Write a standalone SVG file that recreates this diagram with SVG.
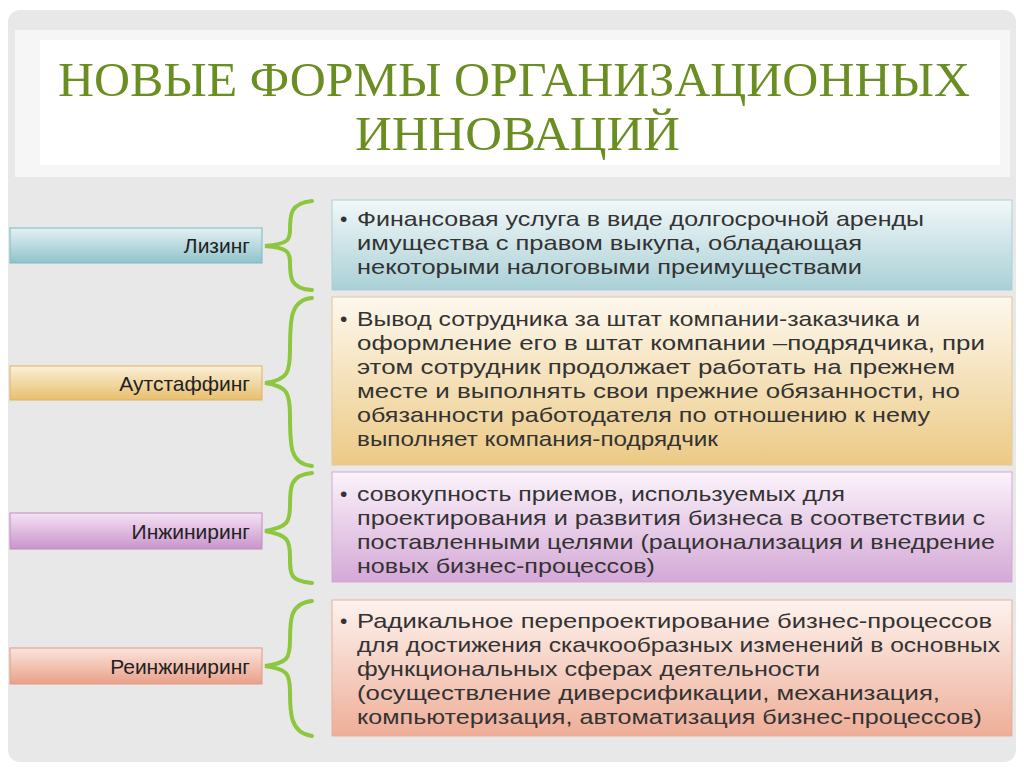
<svg xmlns="http://www.w3.org/2000/svg" width="1024" height="767" viewBox="0 0 1024 767">
<defs>
<linearGradient id="gb" x1="0" y1="0" x2="0" y2="1"><stop offset="0" stop-color="#e3f1f3"/><stop offset="1" stop-color="#8fc3cb"/></linearGradient>
<linearGradient id="go" x1="0" y1="0" x2="0" y2="1"><stop offset="0" stop-color="#fbf0d8"/><stop offset="1" stop-color="#e7bf6e"/></linearGradient>
<linearGradient id="gp" x1="0" y1="0" x2="0" y2="1"><stop offset="0" stop-color="#f4e3f4"/><stop offset="1" stop-color="#c994cb"/></linearGradient>
<linearGradient id="gr" x1="0" y1="0" x2="0" y2="1"><stop offset="0" stop-color="#fbe5dd"/><stop offset="1" stop-color="#e9a089"/></linearGradient>
<linearGradient id="bb" x1="0" y1="0" x2="0" y2="1"><stop offset="0" stop-color="#f2f8f9"/><stop offset="1" stop-color="#a9d0d6"/></linearGradient>
<linearGradient id="bo" x1="0" y1="0" x2="0" y2="1"><stop offset="0" stop-color="#fdf8ee"/><stop offset="1" stop-color="#ecca85"/></linearGradient>
<linearGradient id="bp" x1="0" y1="0" x2="0" y2="1"><stop offset="0" stop-color="#fbf3fb"/><stop offset="1" stop-color="#d4a8d6"/></linearGradient>
<linearGradient id="br" x1="0" y1="0" x2="0" y2="1"><stop offset="0" stop-color="#fdf3ef"/><stop offset="1" stop-color="#eeae98"/></linearGradient>
</defs>
<style>
.lbl{font-family:"Liberation Sans",Arial,sans-serif;font-size:21px;fill:#222;text-anchor:end}
.txt{font-family:"Liberation Sans",Arial,sans-serif;font-size:21px;fill:#333}
.br{fill:none;stroke:#8dc63f;stroke-width:4;stroke-linecap:round}
.ttl{font-family:"Liberation Serif","Times New Roman",serif;font-size:48px;fill:#6b8e23}
</style>
<rect width="1024" height="767" fill="#fff"/>
<rect x="8" y="10" width="1008" height="752" rx="12" fill="#e8e8e8"/>
<rect x="15" y="30" width="995" height="147" fill="#f6f6f6"/>
<rect x="40" y="40" width="960" height="125" fill="#fff"/>
<g id="title">
<text class="ttl" x="58" y="96" textLength="912" lengthAdjust="spacingAndGlyphs">НОВЫЕ ФОРМЫ ОРГАНИЗАЦИОННЫХ</text>
<text class="ttl" x="355" y="150" textLength="325" lengthAdjust="spacingAndGlyphs">ИННОВАЦИЙ</text>
</g>
<g id="connectors">
<path class="br" d="M312,201 C290,203 290,215 290,230 C290,240 288,244 265,246 C288,248 290,252 290,262 C290,277 290,289 312,290"/>
<path class="br" d="M312,298 C290,300 290,320 290,350 C290,372 288,380 265,383 C288,386 290,394 290,416 C290,446 290,464 312,466"/>
<path class="br" d="M312,473 C290,475 290,487 290,505 C290,522 288,527 265,531 C288,535 290,540 290,557 C290,575 290,581 312,583"/>
<path class="br" d="M312,601 C290,603 290,620 290,640 C290,658 288,663 265,666 C288,669 290,674 290,692 C290,712 290,733 312,736"/>
</g>
<g id="lizing">
<rect x="10" y="228" width="252" height="35" fill="url(#gb)" stroke="#7fb7bf"/>
<text class="lbl" x="250" y="253">Лизинг</text>
<rect x="332" y="200" width="680" height="90" fill="url(#bb)" stroke="#a9cfd4"/>
<text class="txt" x="340" y="226">•</text>
<text class="txt" x="357" y="226" textLength="567" lengthAdjust="spacingAndGlyphs">Финансовая услуга в виде долгосрочной аренды</text>
<text class="txt" x="357" y="250" textLength="505" lengthAdjust="spacingAndGlyphs">имущества с правом выкупа, обладающая</text>
<text class="txt" x="357" y="274" textLength="505" lengthAdjust="spacingAndGlyphs">некоторыми налоговыми преимуществами</text>
</g>
<g id="outstaffing">
<rect x="10" y="366" width="252" height="34" fill="url(#go)" stroke="#dcb35c"/>
<text class="lbl" x="250" y="391">Аутстаффинг</text>
<rect x="332" y="297" width="680" height="168" fill="url(#bo)" stroke="#e3c88f"/>
<text class="txt" x="340" y="326">•</text>
<text class="txt" x="357" y="326" textLength="563" lengthAdjust="spacingAndGlyphs">Вывод сотрудника за штат компании-заказчика и</text>
<text class="txt" x="357" y="350" textLength="628" lengthAdjust="spacingAndGlyphs">оформление его в штат компании –подрядчика, при</text>
<text class="txt" x="357" y="374" textLength="598" lengthAdjust="spacingAndGlyphs">этом сотрудник продолжает работать на прежнем</text>
<text class="txt" x="357" y="398" textLength="603" lengthAdjust="spacingAndGlyphs">месте и выполнять свои прежние обязанности, но</text>
<text class="txt" x="357" y="422" textLength="573" lengthAdjust="spacingAndGlyphs">обязанности работодателя по отношению к нему</text>
<text class="txt" x="357" y="446" textLength="361" lengthAdjust="spacingAndGlyphs">выполняет компания-подрядчик</text>
</g>
<g id="engineering">
<rect x="10" y="513" width="252" height="36" fill="url(#gp)" stroke="#bf8ac1"/>
<text class="lbl" x="250" y="539">Инжиниринг</text>
<rect x="332" y="472" width="680" height="110" fill="url(#bp)" stroke="#d0a9d2"/>
<text class="txt" x="340" y="501">•</text>
<text class="txt" x="357" y="501" textLength="488" lengthAdjust="spacingAndGlyphs">совокупность приемов, используемых для</text>
<text class="txt" x="357" y="525" textLength="628" lengthAdjust="spacingAndGlyphs">проектирования и развития бизнеса в соответствии с</text>
<text class="txt" x="357" y="549" textLength="638" lengthAdjust="spacingAndGlyphs">поставленными целями (рационализация и внедрение</text>
<text class="txt" x="357" y="573" textLength="298" lengthAdjust="spacingAndGlyphs">новых бизнес-процессов)</text>
</g>
<g id="reengineering">
<rect x="10" y="648" width="252" height="36" fill="url(#gr)" stroke="#e29a82"/>
<text class="lbl" x="250" y="674">Реинжиниринг</text>
<rect x="332" y="600" width="680" height="136" fill="url(#br)" stroke="#e8ad99"/>
<text class="txt" x="340" y="628">•</text>
<text class="txt" x="357" y="628" textLength="635" lengthAdjust="spacingAndGlyphs">Радикальное перепроектирование бизнес-процессов</text>
<text class="txt" x="357" y="652" textLength="643" lengthAdjust="spacingAndGlyphs">для достижения скачкообразных изменений в основных</text>
<text class="txt" x="357" y="676" textLength="463" lengthAdjust="spacingAndGlyphs">функциональных сферах деятельности</text>
<text class="txt" x="357" y="700" textLength="583" lengthAdjust="spacingAndGlyphs">(осуществление диверсификации, механизация,</text>
<text class="txt" x="357" y="724" textLength="625" lengthAdjust="spacingAndGlyphs">компьютеризация, автоматизация бизнес-процессов)</text>
</g>
</svg>
